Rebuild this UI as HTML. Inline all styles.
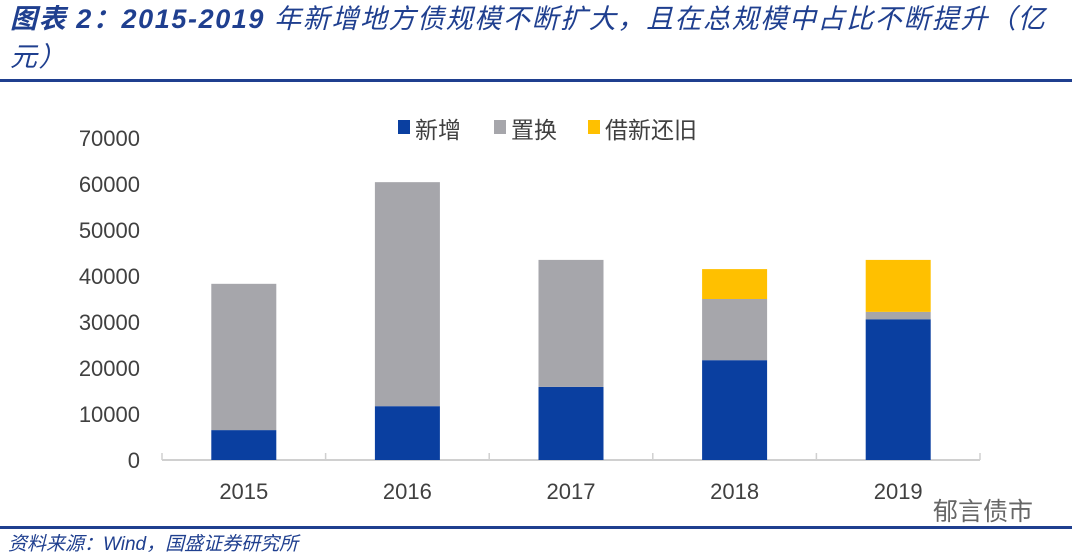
<!DOCTYPE html>
<html><head><meta charset="utf-8"><style>
body{margin:0;width:1072px;height:555px;background:#fff;overflow:hidden;position:relative;font-family:"Liberation Sans","Noto Sans CJK SC",sans-serif}
.title{position:absolute;left:10px;top:0px;width:1062px;font-style:italic;color:#1f3f8f;font-size:27px;line-height:38px;letter-spacing:1.6px;font-weight:normal}
.title b{font-weight:bold}
.src{position:absolute;left:8px;top:529px;font-style:italic;color:#1f3f8f;font-size:19px}
.wm{position:absolute;left:933px;top:492px;color:#666;font-size:25px}
</style></head><body>
<div class="title"><b>图表 2：2015-2019</b> 年新增地方债规模不断扩大，且在总规模中占比不断提升（亿元）</div>
<div style="position:absolute;left:0;top:79px;width:1072px;height:3px;background:#1f3f8f"></div>
<div style="position:absolute;left:0;top:526px;width:1072px;height:3px;background:#1f3f8f"></div>
<div class="src">资料来源：Wind，国盛证券研究所</div>
<div class="wm">郁言债市</div>
<svg id="c" width="1072" height="555" style="position:absolute;left:0;top:0"></svg>
<script>
const categories=["2015","2016","2017","2018","2019"];
const newIssue=[6500,11700,15900,21700,30600];
const swapIssue=[31800,48700,27600,13300,1600];
const refinIssue=[0,0,0,6500,11300];
const yTicks=[0,10000,20000,30000,40000,50000,60000,70000];
const seriesNames=["新增","置换","借新还旧"];
const colors=["#0a3fa0","#a6a6ab","#ffc000"];
const ns="http://www.w3.org/2000/svg";
const svg=document.getElementById('c');
const x0=162,x1=980,y0=460,yTop=138,yMax=70000;
const y=v=>y0-(v/yMax)*(y0-yTop);
const bw=(x1-x0)/categories.length;
const xc=i=>x0+bw*(i+0.5);
function el(t,a){const e=document.createElementNS(ns,t);for(const k in a)e.setAttribute(k,a[k]);svg.appendChild(e);return e;}
yTicks.forEach(v=>{const t=el('text',{x:140,y:y(v)+8,'text-anchor':'end','font-size':22,fill:'#404040','font-family':'Liberation Sans, sans-serif'});t.textContent=v;

});
const ax=el('line',{x1:x0,y1:y0,x2:x1,y2:y0,stroke:'#d0d0d0','stroke-width':2});


for(let i=0;i<=categories.length;i++){const tk=el('line',{x1:x0+bw*i,y1:y0,x2:x0+bw*i,y2:y0-7,stroke:'#d0d0d0','stroke-width':1.5});

}
const series=[newIssue,swapIssue,refinIssue];
categories.forEach((c,i)=>{let acc=0;series.forEach((s,k)=>{const v=s[i];if(v>0){const r=el('rect',{x:xc(i)-32.5,y:y(acc+v),width:65,height:y(acc)-y(acc+v),fill:colors[k]});

}acc+=v;});
const t=el('text',{x:xc(i),y:499,'text-anchor':'middle','font-size':22,fill:'#404040','font-family':'Liberation Sans, sans-serif'});t.textContent=c;

});
const lx=[398,494,588];
seriesNames.forEach((n,k)=>{const r=el('rect',{x:lx[k],y:120,width:12,height:14,fill:colors[k]});


const t=el('text',{x:lx[k]+17,y:138,'font-size':23,fill:'#404040','font-family':'Noto Sans CJK SC, sans-serif'});t.textContent=n;

});
</script>
</body></html>
